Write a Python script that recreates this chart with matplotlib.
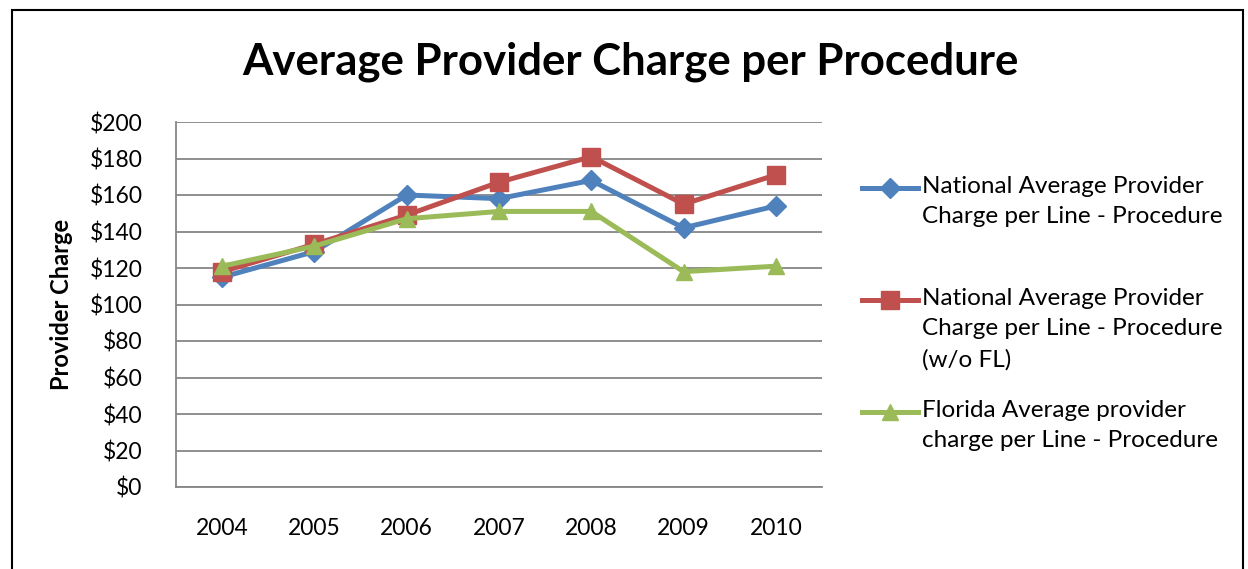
import matplotlib
matplotlib.use('Agg')
import matplotlib.pyplot as plt
from matplotlib.lines import Line2D
from matplotlib.patches import Rectangle

plt.rcParams['font.family'] = ['Lato', 'DejaVu Sans']

years = ['2004', '2005', '2006', '2007', '2008', '2009', '2010']
national = [115, 129, 160, 158, 168, 142, 154]
national_wo_fl = [118, 133, 149, 167, 181, 155, 171]
florida = [121, 132, 147, 151, 151, 118, 121]

labels = ['National Average Provider\nCharge per Line - Procedure',
          'National Average Provider\nCharge per Line - Procedure\n(w/o FL)',
          'Florida Average provider\ncharge per Line - Procedure']
colors = ['#4F81BD', '#C0504D', '#9BBB59']
markers = ['D', 's', '^']
msizes = [10.5, 12.5, 12]
series = [national, national_wo_fl, florida]

fig = plt.figure(figsize=(12.48, 5.69), dpi=100)
ax = fig.add_axes([176/1248, 1 - 487/569, 646/1248, 365/569])

x = list(range(len(years)))
for vals, c, m, ms in zip(series, colors, markers, msizes):
    ax.plot(x, vals, color=c, lw=3.6, marker=m, markersize=ms,
            markeredgecolor=c, zorder=3)

ax.set_xlim(-0.5, len(years) - 0.5)
ax.set_ylim(0, 200)
ax.set_yticks(range(0, 201, 20))
ax.set_yticklabels(['$%d' % v for v in range(0, 201, 20)])
ax.set_xticks(x)
ax.set_xticklabels(years)
ax.tick_params(axis='both', labelsize=16.5, length=0)
ax.tick_params(axis='y', pad=24)
ax.tick_params(axis='x', pad=22)
ax.grid(axis='y', color='#868686', lw=1.3)
ax.set_axisbelow(True)
for s in ['top', 'right']:
    ax.spines[s].set_visible(False)
for s in ['left', 'bottom']:
    ax.spines[s].set_color('#868686')
    ax.spines[s].set_linewidth(1.3)

ax.set_ylabel('Provider Charge', fontsize=17, fontweight='bold', labelpad=12)

fig.text(630/1248, 1 - 62/569, 'Average Provider Charge per Procedure',
         ha='center', va='center', fontsize=31.5, fontweight='bold')

# legend drawn by hand so the handle sits on the first text line
legend_rows = [188, 300, 412]
for lab, c, m, ms, yy in zip(labels, colors, markers, msizes, legend_rows):
    yf = 1 - yy / 569
    fig.add_artist(Line2D([862/1248, 918/1248], [yf, yf], color=c, lw=3.6,
                          transform=fig.transFigure))
    fig.add_artist(Line2D([890/1248], [yf], color=c, marker=m, markersize=ms,
                          markeredgecolor=c, transform=fig.transFigure))
    fig.text(922/1248, yf + 12/569, lab, ha='left', va='top', fontsize=17.5,
             linespacing=1.55)

fig.add_artist(Rectangle((12/1248, -0.1), (1243 - 12)/1248, 1.1 - 10/569,
                         transform=fig.transFigure, fill=False,
                         edgecolor='black', lw=1.5))

fig.savefig('out.png', dpi=100)
